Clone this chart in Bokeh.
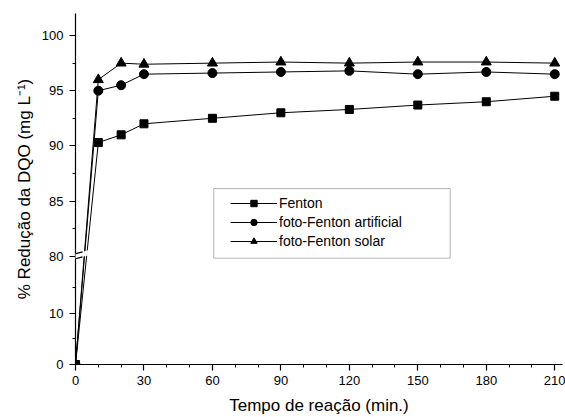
from bokeh.plotting import figure
from bokeh.models import (Range1d, FixedTicker, SingleIntervalTicker, CustomJSTickFormatter,
                          CustomJSTransform, Legend, LegendItem, PolyAnnotation, Arrow,
                          ColumnDataSource, BoxAnnotation, Title)
from bokeh.transform import transform
from bokeh.embed import file_html
from bokeh.resources import INLINE

# ---------------- data ----------------
tempo = [0, 10, 20, 30, 60, 90, 120, 150, 180, 210]
fenton = [0, 90.3, 91.0, 92.0, 92.5, 93.0, 93.3, 93.7, 94.0, 94.5]
foto_artificial = [0, 95.0, 95.5, 96.5, 96.6, 96.7, 96.8, 96.5, 96.7, 96.5]
foto_solar = [0, 96.0, 97.5, 97.4, 97.5, 97.6, 97.5, 97.6, 97.6, 97.5]

x_major = 30
y_major = [0, 10, 80, 85, 90, 95, 100]
y_minor = [5, 15, 82.5, 87.5, 92.5, 97.5]

# ---------------- broken axis scale ----------------
LOWER_RATIO = 5.17 / 11.1      # lower segment is compressed
UPPER_START = 80.0
BREAK_T = 9.82                  # position of the break in axis units
Y_TOP = 102.0

def t(v):
    return v * LOWER_RATIO if v < UPPER_START else BREAK_T + (v - UPPER_START)

brk = CustomJSTransform(
    args=dict(r=LOWER_RATIO, b=BREAK_T, lo=UPPER_START),
    func="return x < lo ? x * r : b + (x - lo);",
    v_func="""
const out = new Array(xs.length);
for (let i = 0; i < xs.length; i++) {
  const y = xs[i];
  out[i] = y < lo ? y * r : b + (y - lo);
}
return out;
""")

FONT = "Liberation Sans"

# pixel helpers for decorations (frame: left 75, bottom 366)
PX_X = 2.278   # px per minute
PX_Y = 11.1    # px per axis unit
X0, Y0 = 75.0, 366.0
def xd(px):
    return (px - X0) / PX_X
def yd(px):
    return (Y0 - px) / PX_Y

p = figure(width=565, height=417, output_backend="svg", toolbar_location=None,
           x_range=Range1d(0, 213.4), y_range=Range1d(0, t(Y_TOP)),
           min_border_left=75, min_border_right=3, min_border_top=13, min_border_bottom=51)
p.outline_line_color = None
p.xgrid.visible = False
p.ygrid.visible = False
p.background_fill_color = "white"
p.border_fill_color = "white"

# legend frame (drawn behind the data)
p.add_layout(BoxAnnotation(left=xd(213), right=xd(449), top=yd(189), bottom=yd(259),
                           fill_color="white", fill_alpha=1.0, line_color="black",
                           line_width=1, level="underlay"))

src = ColumnDataSource(dict(x=tempo, f=fenton, a=foto_artificial, s=foto_solar))

l1 = p.line("x", transform("f", brk), source=src, line_color="black", line_width=1)
m1 = p.scatter("x", transform("f", brk), source=src, marker="square", size=8,
               fill_color="black", line_color="black")
l2 = p.line("x", transform("a", brk), source=src, line_color="black", line_width=1)
m2 = p.scatter("x", transform("a", brk), source=src, marker="circle", size=9,
               fill_color="black", line_color="black")
l3 = p.line("x", transform("s", brk), source=src, line_color="black", line_width=1)
m3 = p.scatter("x", transform("s", brk), source=src, marker="triangle", size=10,
               fill_color="black", line_color="black")

# axes
for ax in (p.xaxis[0], p.yaxis[0]):
    ax.axis_line_color = "black"
    ax.axis_line_width = 1.2
    ax.major_tick_line_color = "black"
    ax.minor_tick_line_color = "black"
    ax.major_tick_line_width = 1.2
    ax.minor_tick_line_width = 1
    ax.major_tick_out = 6
    ax.major_tick_in = 0
    ax.minor_tick_out = 3
    ax.minor_tick_in = 0
    ax.major_label_text_font = FONT
    ax.major_label_text_font_size = "13px"
    ax.major_label_text_color = "black"
    ax.axis_label_text_font = FONT
    ax.axis_label_text_font_size = "17px"
    ax.axis_label_text_font_style = "normal"
    ax.axis_label_text_color = "black"

p.xaxis[0].ticker = SingleIntervalTicker(interval=x_major, num_minor_ticks=3)
p.xaxis[0].major_label_standoff = 5
p.xaxis[0].axis_label = "Tempo de reação (min.)"
p.xaxis[0].axis_label_standoff = 8

p.yaxis[0].ticker = FixedTicker(ticks=[t(v) for v in y_major],
                                minor_ticks=[t(v) for v in y_minor])
p.yaxis[0].formatter = CustomJSTickFormatter(
    args=dict(r=LOWER_RATIO, b=BREAK_T, lo=UPPER_START),
    code="""
const v = tick < b - 1e-6 ? tick / r : tick - b + lo;
return String(Math.round(v * 10) / 10);
""")
p.yaxis[0].major_label_standoff = 6

# y axis title as a side title (allows shifting along the axis)
ytitle = Title(text="% Redução da DQO (mg L\u207b\u00b9)", align="center", offset=-19,
               standoff=10, text_font=FONT, text_font_size="17px",
               text_font_style="normal", text_color="black")
p.add_layout(ytitle, "left")

# break marker on the y axis
slope = 4.0 / 15.0
gap = 5.0
xl, xr, xw = 64.0, 82.0, 88.0
def upper(xpx):
    return BREAK_T + (gap / 2 + (xpx - X0) * slope) / PX_Y
def lower(xpx):
    return BREAK_T + (-gap / 2 + (xpx - X0) * slope) / PX_Y
band = PolyAnnotation(xs=[xd(xl), xd(xw), xd(xw), xd(xl)],
                      ys=[upper(xl), upper(xw), lower(xw), lower(xl)],
                      fill_color="white", fill_alpha=1.0, line_color=None)
p.add_layout(band)
for f in (upper, lower):
    p.add_layout(Arrow(end=None, start=None, x_start=xd(xl), y_start=f(xl),
                       x_end=xd(xr), y_end=f(xr), line_color="black", line_width=1.2))

legend = Legend(items=[LegendItem(label="Fenton", renderers=[l1, m1]),
                       LegendItem(label="foto-Fenton artificial", renderers=[l2, m2]),
                       LegendItem(label="foto-Fenton solar", renderers=[l3, m3])],
                location=(155, 115))
legend.border_line_color = None
legend.background_fill_alpha = 0.0
legend.label_text_font = FONT
legend.label_text_font_size = "14px"
legend.label_text_color = "black"
legend.glyph_width = 47
legend.glyph_height = 16
legend.spacing = 3
legend.padding = 8
legend.margin = 0
legend.label_standoff = 2
legend.label_height = 16
p.add_layout(legend)

open("out.html", "w").write(file_html(p, INLINE))
